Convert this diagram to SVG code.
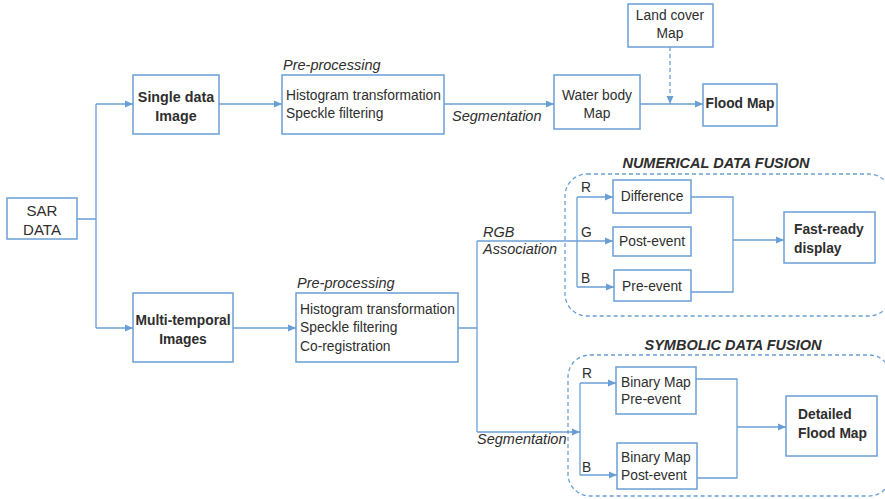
<svg xmlns="http://www.w3.org/2000/svg" width="885" height="499" viewBox="0 0 885 499">
<defs>
<marker id="arr" markerUnits="userSpaceOnUse" markerWidth="8" markerHeight="8" refX="8" refY="4" orient="auto">
<path d="M0,0.5 L8,4 L0,7.5 z" fill="#6a9fd6"/>
</marker>
<style>
.box{fill:#fff;stroke:#6a9fd6;stroke-width:1.5}
.grp{fill:none;stroke:#6a9fd6;stroke-width:1.3;stroke-dasharray:4 3}
.ln{fill:none;stroke:#6a9fd6;stroke-width:1.3}
.ar{fill:none;stroke:#6a9fd6;stroke-width:1.3;marker-end:url(#arr)}
.dash{stroke-dasharray:4 3}
text{font-family:"Liberation Sans",Arial,sans-serif;fill:#2e2e2e;font-size:13.8px}
.c{text-anchor:middle}
.b{font-weight:bold}
.i{font-style:italic;font-size:14.5px}
.t{font-weight:bold;font-style:italic;font-size:14.5px}
</style>
</defs>
<rect width="885" height="499" fill="#fff"/>

<g id="groups">
<rect class="grp" x="565" y="174" width="326" height="142" rx="22"/>
<rect class="grp" x="568" y="355" width="323" height="141" rx="22"/>
<text class="t c" x="716" y="168">NUMERICAL DATA FUSION</text>
<text class="t c" x="733" y="350">SYMBOLIC DATA FUSION</text>
</g>

<g id="connectors">
<path class="ln" d="M77,219 H96 M96,104 V328"/>
<path class="ar" d="M96,104 H133"/>
<path class="ar" d="M96,328 H133"/>
<path class="ar" d="M219,104 H282"/>
<path class="ar" d="M444,104 H554"/>
<path class="ar" d="M640,104 H703"/>
<path class="ar dash" d="M670,47 V104"/>
<path class="ar" d="M233,328 H296"/>
<path class="ln" d="M458,328 H477 M477,241 V432"/>
<path class="ar" d="M477,241 H613"/>
<path class="ar" d="M477,432 H580"/>
<path class="ln" d="M577,197 V287"/>
<path class="ar" d="M577,197 H613"/>
<path class="ar" d="M577,287 H614"/>
<path class="ln" d="M691,197 H733 V292 H691"/>
<path class="ar" d="M733,240 H784"/>
<path class="ln" d="M580,383 V475"/>
<path class="ar" d="M580,383 H616"/>
<path class="ar" d="M580,475 H617"/>
<path class="ln" d="M696,379 H737 V478 H697"/>
<path class="ar" d="M737,427 H786"/>
<text class="i" x="283" y="70">Pre-processing</text>
<text class="i" x="452" y="121">Segmentation</text>
<text class="i" x="297" y="288">Pre-processing</text>
<text class="i" x="483" y="237">RGB</text>
<text class="i" x="483" y="254">Association</text>
<text class="i" x="477" y="444">Segmentation</text>
<text x="581" y="192">R</text>
<text x="581" y="237">G</text>
<text x="581" y="283">B</text>
<text x="582" y="378">R</text>
<text x="582" y="472">B</text>
</g>

<g id="sar">
<rect class="box" x="7" y="198" width="70" height="41"/>
<text class="c" x="42" y="216" style="font-size:15px">SAR</text>
<text class="c" x="42" y="235" style="font-size:15px">DATA</text>
</g>
<g id="single">
<rect class="box" x="133" y="75" width="86" height="59"/>
<text class="c b" x="176" y="102" style="font-size:14.3px">Single data</text>
<text class="c b" x="176" y="121" style="font-size:14.3px">Image</text>
</g>
<g id="prep1">
<rect class="box" x="282" y="75" width="162" height="59"/>
<text x="286" y="100">Histogram transformation</text>
<text x="286" y="118">Speckle filtering</text>
</g>
<g id="water">
<rect class="box" x="554" y="75" width="86" height="54"/>
<text class="c" x="597" y="100">Water body</text>
<text class="c" x="597" y="118">Map</text>
</g>
<g id="landcover">
<rect class="box" x="628" y="4" width="85" height="43"/>
<text class="c" x="670" y="20">Land cover</text>
<text class="c" x="670" y="38">Map</text>
</g>
<g id="floodmap">
<rect class="box" x="703" y="84" width="74" height="42"/>
<text class="c b" x="740" y="108">Flood Map</text>
</g>
<g id="multi">
<rect class="box" x="133" y="293" width="100" height="69"/>
<text class="c b" x="183" y="325">Multi-temporal</text>
<text class="c b" x="183" y="344">Images</text>
</g>
<g id="prep2">
<rect class="box" x="296" y="293" width="162" height="69"/>
<text x="300" y="314">Histogram transformation</text>
<text x="300" y="332">Speckle filtering</text>
<text x="300" y="351">Co-registration</text>
</g>
<g id="difference">
<rect class="box" x="613" y="180" width="78" height="33"/>
<text class="c" x="652" y="201">Difference</text>
</g>
<g id="postevent">
<rect class="box" x="613" y="227" width="78" height="29"/>
<text class="c" x="652" y="246">Post-event</text>
</g>
<g id="preevent">
<rect class="box" x="614" y="270" width="77" height="31"/>
<text class="c" x="652" y="291">Pre-event</text>
</g>
<g id="fastready">
<rect class="box" x="784" y="212" width="91" height="51"/>
<text class="b" x="794" y="234">Fast-ready</text>
<text class="b" x="794" y="253">display</text>
</g>
<g id="binarypre">
<rect class="box" x="616" y="367" width="80" height="47"/>
<text x="621" y="387">Binary Map</text>
<text x="621" y="404">Pre-event</text>
</g>
<g id="binarypost">
<rect class="box" x="617" y="443" width="80" height="46"/>
<text x="621" y="462">Binary Map</text>
<text x="621" y="480">Post-event</text>
</g>
<g id="detailed">
<rect class="box" x="786" y="396" width="91" height="60"/>
<text class="b" x="798" y="419">Detailed</text>
<text class="b" x="798" y="438">Flood Map</text>
</g>
</svg>
